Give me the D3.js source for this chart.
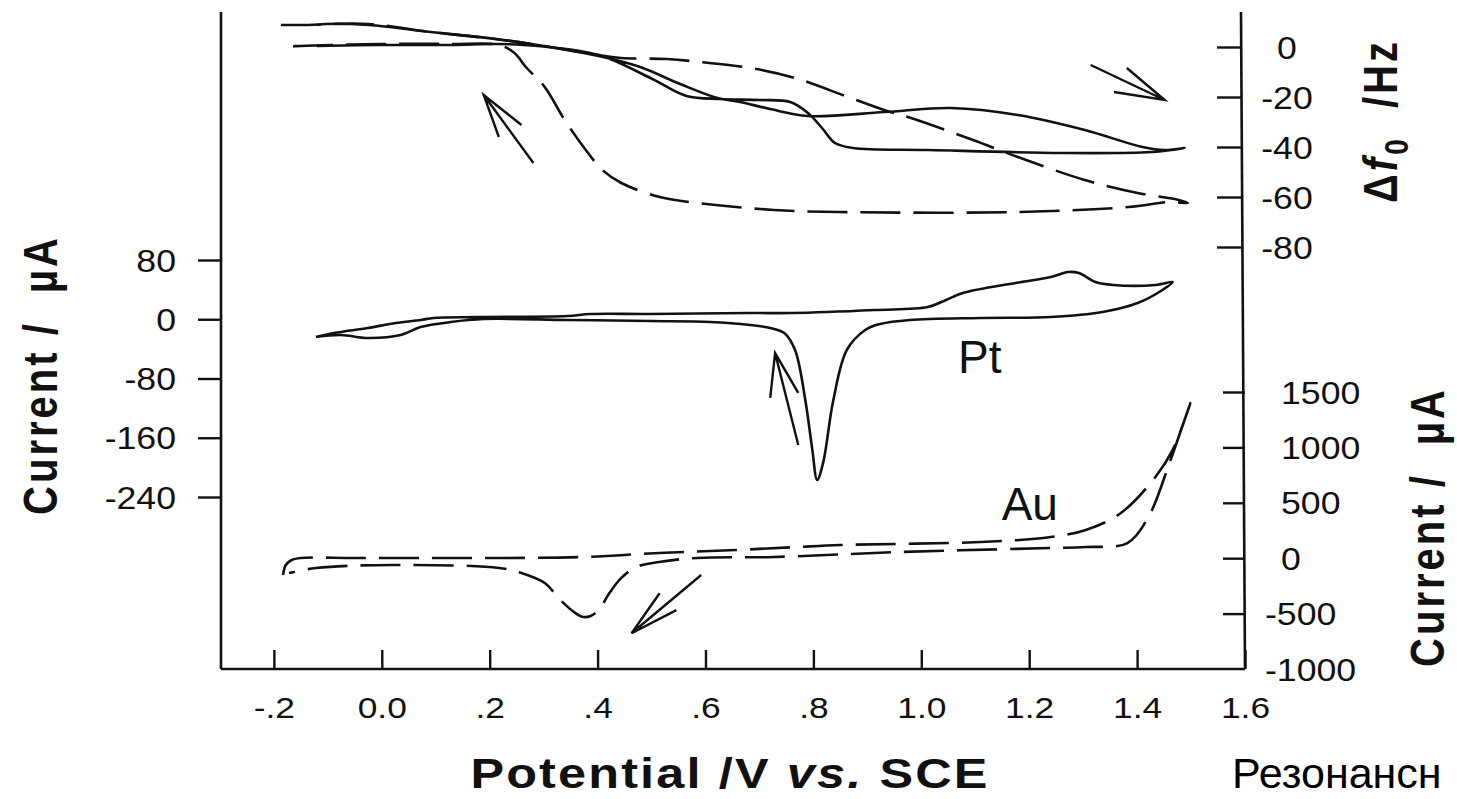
<!DOCTYPE html>
<html>
<head>
<meta charset="utf-8">
<script src="https://cdn.jsdelivr.net/npm/d3@7"></script>
<style>
  html, body { margin: 0; padding: 0; background: #fff; overflow: hidden; }
  svg { display: block; font-family: "Liberation Sans", Arial, Helvetica, sans-serif; }
  .tick line { stroke: #111; stroke-width: 2.4; }
  .tick text { fill: #111; }
  .title { font-weight: bold; fill: #111; white-space: pre; }
</style>
</head>
<body>
<svg id="chart" width="1457" height="799"></svg>
<script>
// ---- Axis ticks ----
const potentialTicks = [-0.2, 0, 0.2, 0.4, 0.6, 0.8, 1.0, 1.2, 1.4, 1.6];
const potentialTickLabels = ["-.2", "0.0", ".2", ".4", ".6", ".8", "1.0", "1.2", "1.4", "1.6"];
const ptCurrentTicks = [80, 0, -80, -160, -240];
const freqTicks = [0, -20, -40, -60, -80];
const auCurrentTicks = [1500, 1000, 500, 0, -500, -1000];

// ---- Pt cyclic voltammogram (V vs. SCE, µA) ----
const ptCvPotential = [-0.122, -0.089, -0.026, 0.026, 0.072, 0.096, 0.178, 0.344, 0.387, 0.498, 0.683, 0.759,
  0.914, 1.012, 1.046, 1.077, 1.175, 1.240, 1.272, 1.292, 1.323, 1.356, 1.434, 1.466,
  1.447, 1.401, 1.336, 1.240, 1.110, 0.979, 0.924, 0.896, 0.862, 0.837, 0.818, 0.807, 0.798, 0.785,
  0.766, 0.746, 0.720, 0.683, 0.609, 0.498, 0.344, 0.189, 0.128, 0.072, 0.035, -0.026, -0.076, -0.122];
const ptCvCurrent = [-24.0, -18.6, -11.8, -5.1, -1.0, 1.7, 3.0, 4.4, 7.1, 7.1, 8.4, 8.4,
  12.5, 16.5, 26, 35.4, 49, 57, 63.8, 62.4, 50.3, 46.3, 46.3, 50.3,
  39.5, 21.9, 9.8, 3.0, 1.7, -1.0, -6.4, -14.5, -41.5, -109, -194, -217, -176, -109,
  -41.5, -18.6, -11.8, -7.8, -3.7, -2.4, -1.0, 0.3, -3.7, -10.5, -21.3, -25.3, -21.3, -24.0];

// ---- Au cyclic voltammogram (V vs. SCE, µA) ----
const auCvPotential = [-0.183, -0.178, -0.167, -0.150, -0.052, 0.072, 0.217, 0.374, 0.514, 0.657, 0.770, 0.850,
  1.110, 1.240, 1.305, 1.370, 1.434, 1.466, 1.499,
  1.486, 1.460, 1.421, 1.382, 1.305, 1.240, 0.961, 0.727, 0.585, 0.514, 0.472, 0.444, 0.422, 0.402,
  0.387, 0.374, 0.359, 0.331, 0.302, 0.259, 0.217, 0.019, -0.122, -0.172];
const auCvCurrent = [-152, -61, -16, 2, 2, 2, 2, 11, 47, 74, 101, 119,
  146, 191, 255, 408, 733, 977, 1401,
  1220, 859, 372, 137, 101, 92, 56, 11, 2, -34, -79, -178, -314, -467,
  -522, -531, -495, -377, -224, -134, -88, -61, -88, -134];

// ---- Resonant frequency shift on Pt (V vs. SCE, Hz) ----
const ptFreqPotential = [-0.120, -0.002, 0.128, 0.217, 0.289, 0.402, 0.498, 0.565, 0.627, 0.701, 0.757, 0.790,
  0.816, 0.840, 0.874, 1.014, 1.260, 1.427, 1.488,
  1.451, 1.410, 1.303, 1.179, 1.055, 0.931, 0.790, 0.720, 0.664, 0.622, 0.553, 0.479, 0.402,
  0.289, 0.211, 0.091, -0.024, -0.104, -0.120];
const ptFreqShift = [0.4, 0.8, 0.8, 1.2, 0.4, -3.2, -12.4, -19.6, -20.8, -21.2, -22, -26.4,
  -32.4, -38.4, -40.4, -41.2, -42.4, -42, -40.4,
  -41.2, -40, -33.2, -27.2, -24.4, -26, -27.6, -24.8, -22, -20.4, -14.8, -8, -3.6,
  0.8, 3.2, 6.0, 8.8, 9.2, 8.8];

// ---- Resonant frequency shift on Au (V vs. SCE, Hz) ----
const auFreqPotential = [-0.187, -0.150, -0.024, 0.091, 0.211, 0.289, 0.402, 0.444, 0.529, 0.590, 0.683, 0.766,
  0.864, 0.931, 0.981, 1.096, 1.179, 1.303, 1.401, 1.477, 1.494,
  1.460, 1.384, 1.179, 0.848, 0.727, 0.585, 0.515, 0.444, 0.409, 0.374, 0.339, 0.302, 0.267, 0.246,
  0.217, 0.128, -0.002, -0.150, -0.176, -0.187];
const auFreqShift = [8.8, 8.8, 9.2, 6.0, 3.2, 0.8, -3.2, -4.4, -4.8, -6.0, -8.4, -12.4,
  -20, -25.2, -28.4, -37.2, -44, -53.2, -58.4, -61.2, -62.4,
  -62, -64, -66, -66, -65.2, -62.4, -60, -54.4, -49.2, -40, -29.2, -16, -8, -2.4,
  0.8, 1.2, 1.2, 0.4, 0, -1.2];

// ---- Sweep-direction arrows: [tail, tip, barb, barb] ----
const freqArrowRight = [[1.314, -7.2], [1.451, -21.2], [1.381, -8.4], [1.357, -18.0]];
const freqArrowLeft = [[0.281, -46.4], [0.189, -19.2], [0.259, -31.2], [0.217, -36.0]];
const ptArrow = [[0.772, -169.8], [0.729, -45.6], [0.720, -106], [0.772, -99.3]];
const auArrow = [[0.592, -152], [0.463, -677], [0.515, -316], [0.546, -469]];

// ---- Scales ----
const svg = d3.select("#chart");
const x = d3.scaleLinear().domain([-0.298, 1.6]).range([221, 1245]);
const yPt = d3.scaleLinear().domain([80, -240]).range([260, 497]);
const yF = d3.scaleLinear().domain([0, -80]).range([47, 247]);
const yAu = d3.scaleLinear().domain([1500, -1000]).range([392, 669]);

const frameTop = yF(14);
const frameBottom = yAu(-1000);
const ink = "#111";

// ---- Frame ----
const frame = svg.append("g").attr("fill", "none").attr("stroke", ink).attr("stroke-width", 2.6);
frame.append("line").attr("x1", x.range()[0]).attr("x2", x.range()[0]).attr("y1", frameTop).attr("y2", frameBottom);
frame.append("line").attr("x1", x.range()[1] - 4).attr("x2", x.range()[1]).attr("y1", frameTop).attr("y2", frameBottom);
frame.append("line").attr("x1", x.range()[0]).attr("x2", x.range()[1]).attr("y1", frameBottom).attr("y2", frameBottom);

// ---- Axes ----
const gx = svg.append("g").attr("transform", `translate(0,${frameBottom})`)
  .call(d3.axisBottom(x).tickValues(potentialTicks).tickFormat((d, i) => potentialTickLabels[i]).tickSize(-19));
gx.select(".domain").remove();
gx.selectAll(".tick text").attr("y", 49).attr("dy", null)
  .attr("font-size", 29).attr("transform", "scale(1.22,1)");

const gl = svg.append("g").attr("transform", `translate(${x.range()[0]},0)`)
  .call(d3.axisLeft(yPt).tickValues(ptCurrentTicks).tickFormat(d => String(d)).tickSize(23));
gl.select(".domain").remove();
gl.selectAll(".tick text").attr("x", 0).attr("dy", "0.36em").attr("font-size", 31)
  .attr("transform", "translate(-45,0) scale(1.15,1)");

const gf = svg.append("g").attr("transform", `translate(${x.range()[1] - 4},0)`)
  .call(d3.axisRight(yF).tickValues(freqTicks).tickFormat(d => String(d)).tickSize(-24));
gf.select(".domain").remove();
gf.selectAll(".tick text").attr("x", 0).attr("dy", "0.36em").attr("font-size", 31)
  .attr("text-anchor", "middle").attr("transform", "translate(46,0) scale(1.15,1)");

const ga = svg.append("g").attr("transform", `translate(${x.range()[1]},0)`)
  .call(d3.axisRight(yAu).tickValues(auCurrentTicks).tickFormat(d => String(d)).tickSize(-22));
ga.select(".domain").remove();
ga.selectAll(".tick text").attr("x", 0).attr("dy", "0.36em").attr("font-size", 31)
  .attr("text-anchor", "start")
  .attr("transform", d => `translate(${d < 0 ? 20 : 36},0) scale(1.15,1)`);
ga.selectAll(".tick").filter(d => d === -1000).select("line").remove();

// ---- Curves ----
function drawCurve(px, py, yScale, dashed) {
  const line = d3.line().x(d => x(d[0])).y(d => yScale(d[1])).curve(d3.curveCatmullRom.alpha(0.5));
  svg.append("path")
    .attr("d", line(d3.zip(px, py)))
    .attr("fill", "none").attr("stroke", ink).attr("stroke-width", 2.6)
    .attr("stroke-linejoin", "round")
    .attr("stroke-dasharray", dashed ? "40 13" : null);
}
drawCurve(ptFreqPotential, ptFreqShift, yF, false);
drawCurve(auFreqPotential, auFreqShift, yF, true);
drawCurve(ptCvPotential, ptCvCurrent, yPt, false);
drawCurve(auCvPotential, auCvCurrent, yAu, true);

// ---- Arrows ----
function drawArrow(pts, yScale) {
  const p = pts.map(d => [x(d[0]), yScale(d[1])]);
  const path = d3.path();
  path.moveTo(p[0][0], p[0][1]); path.lineTo(p[1][0], p[1][1]);
  path.moveTo(p[2][0], p[2][1]); path.lineTo(p[1][0], p[1][1]); path.lineTo(p[3][0], p[3][1]);
  svg.append("path").attr("d", path.toString()).attr("fill", "none")
    .attr("stroke", ink).attr("stroke-width", 2.4).attr("stroke-linejoin", "miter");
}
drawArrow(freqArrowRight, yF);
drawArrow(freqArrowLeft, yF);
drawArrow(ptArrow, yPt);
drawArrow(auArrow, yAu);

// ---- Electrode labels ----
svg.append("text").attr("x", x(1.068)).attr("y", yPt(-73)).attr("font-size", 46).attr("fill", ink).text("Pt");
svg.append("text").attr("x", x(1.149)).attr("y", yAu(345)).attr("font-size", 46).attr("fill", ink).text("Au");

// ---- Axis titles ----
svg.append("text").attr("class", "title")
  .attr("transform", "translate(57,375) scale(1.2,1) rotate(-90)")
  .attr("text-anchor", "middle").attr("font-size", 40).attr("letter-spacing", 3)
  .text("Current /  µA");

svg.append("text").attr("class", "title")
  .attr("transform", "translate(1444,527) scale(1.2,1) rotate(-90)")
  .attr("text-anchor", "middle").attr("font-size", 40).attr("letter-spacing", 3)
  .text("Current /  µA");

const fTitle = svg.append("text").attr("class", "title")
  .attr("transform", "translate(1397,121) scale(1.2,1) rotate(-90)")
  .attr("text-anchor", "middle").attr("font-size", 40).attr("letter-spacing", 3);
fTitle.append("tspan").text("Δ");
fTitle.append("tspan").attr("font-style", "italic").text("f");
fTitle.append("tspan").attr("font-size", 28).attr("dy", 9).text("0");
fTitle.append("tspan").attr("dy", -9).text("  /Hz");

svg.append("text").attr("class", "title")
  .attr("x", 730 / 1.2).attr("y", 788).attr("transform", "scale(1.2,1)")
  .attr("text-anchor", "middle").attr("font-size", 42).attr("letter-spacing", 1.8)
  .selectAll("tspan").data([["Potential /V ", "normal"], ["vs.", "italic"], [" SCE", "normal"]])
  .join("tspan").attr("font-style", d => d[1]).text(d => d[0]);

svg.append("text").attr("x", 1232).attr("y", 788).attr("font-size", 43).attr("fill", "#000")
  .text("Резонансн");
</script>
</body>
</html>
